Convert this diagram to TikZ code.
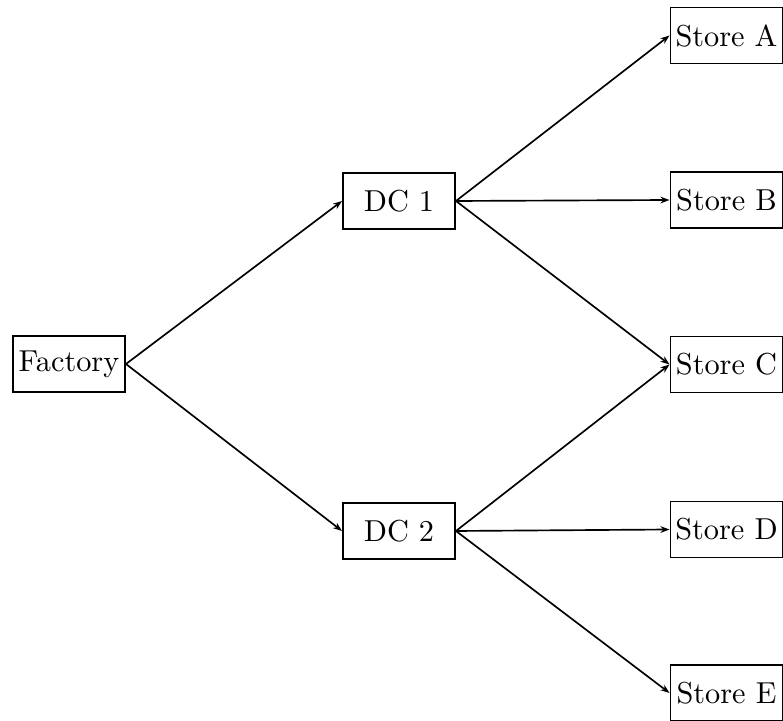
\documentclass[tikz,border=0pt]{standalone}
\usetikzlibrary{arrows.meta}
\begin{document}
\begin{tikzpicture}[x=0.33pt,y=-0.33pt,
  box/.style={draw,line width=0.6pt,minimum width=37pt,minimum height=18.5pt,inner sep=1.5pt},
  link/.style={line width=0.55pt,-{Stealth[length=3pt,width=2.2pt]}}]
\useasboundingbox (0,0) rectangle (783,721);
\node[box] (f) at (69,364) {Factory};
\node[box] (d1) at (399,201) {DC 1};
\node[box] (d2) at (399,531) {DC 2};
\node[box] (sa) at (726.5,35.5) {Store A};
\node[box] (sb) at (726.5,200) {Store B};
\node[box] (sc) at (726.5,364.5) {Store C};
\node[box] (sd) at (726.5,529.5) {Store D};
\node[box] (se) at (726.5,693) {Store E};
\draw[link] (f.east) -- (d1.west);
\draw[link] (f.east) -- (d2.west);
\draw[link] (d1.east) -- (sa.west);
\draw[link] (d1.east) -- (sb.west);
\draw[link] (d1.east) -- (sc.west);
\draw[link] (d2.east) -- (sc.west);
\draw[link] (d2.east) -- (sd.west);
\draw[link] (d2.east) -- (se.west);
\end{tikzpicture}
\end{document}
